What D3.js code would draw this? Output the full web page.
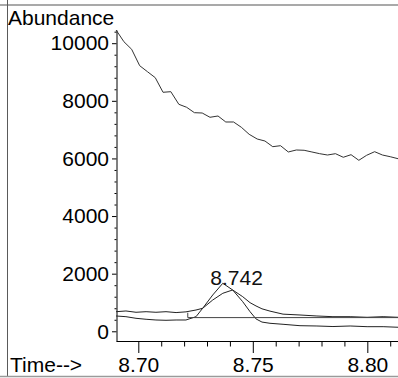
<!DOCTYPE html>
<html>
<head>
<meta charset="utf-8">
<script src="https://cdn.jsdelivr.net/npm/d3@7"></script>
<style>
html,body{margin:0;padding:0;background:#fff;}
svg{display:block;}
text{font-family:"Liberation Sans",Arial,Helvetica,sans-serif;}
</style>
</head>
<body>
<svg id="chart" width="398" height="378"></svg>
<script>
// ---- data ----
const ticTimes = [8.6903,8.6937,8.6971,8.7006,8.7040,8.7074,8.7108,8.7142,8.7177,8.7211,
  8.7245,8.7279,8.7313,8.7348,8.7382,8.7416,8.7450,8.7484,8.7519,8.7553,
  8.7587,8.7621,8.7655,8.7690,8.7724,8.7758,8.7792,8.7826,8.7861,8.7895,
  8.7929,8.7963,8.7997,8.8032,8.8066,8.8100,8.8134];
const ticValues = [10458,10052,9788,9219,9011,8803,8296,8317,7879,7775,
  7588,7577,7428,7473,7265,7265,7081,6838,6675,6605,
  6408,6442,6224,6293,6283,6224,6165,6119,6165,6040,
  6130,5935,6109,6234,6119,6060,5991];

const ionTimes = [8.6903,8.6946,8.6990,8.7034,8.7077,8.7121,8.7165,8.7208,8.7252,8.7281,
  8.7325,8.7369,8.7412,8.7456,8.7488,8.7514,8.7540,8.7575,8.7632,8.7706,
  8.7780,8.7850,8.7925,8.7999,8.8069,8.8134];
const ionAValues = [680,705,660,680,660,680,650,675,739,798,
  1086,1319,1434,1201,993,880,780,700,595,566,
  531,507,507,486,507,486];
const ionBValues = [531,507,451,417,392,382,392,392,507,798,
  1260,1666,1434,1027,680,430,320,278,243,194,
  184,165,184,160,160,140];

const baselineStart = 8.7216;
const baselineTop = 645;
const baselineLevel = 475;
const peakLabel = "8.742";
const peakLabelTime = 8.7429;
const peakLabelValue = 1620;

const yMajorTicks = [0,2000,4000,6000,8000,10000];
const yMinorTicks = [400,800,1200,1600,2400,2800,3200,3600,4400,4800,5200,5600,6400,6800,7200,7600,8400,8800,9200,9600,10400];
const xMajorTicks = [8.70,8.75,8.80];
const xMinorTicks = [8.71,8.72,8.73,8.74,8.76,8.77,8.78,8.79,8.81];
const yTitle = "Abundance";
const xTitle = "Time-->";

// ---- layout ----
const svg = d3.select("#chart");
const x = d3.scaleLinear().domain([8.69026, 8.8134]).range([116, 398]);
const y = d3.scaleLinear().domain([-337, 10458]).range([341, 30]);
const FS = "21px";

// frame lines
svg.append("line").attr("x1",0).attr("x2",398).attr("y1",5).attr("y2",5)
  .attr("stroke","#8c8c8c").attr("stroke-width",1.5);
svg.append("line").attr("x1",7.5).attr("x2",7.5).attr("y1",0).attr("y2",376)
  .attr("stroke","#5a5a5a").attr("stroke-width",1);
svg.append("line").attr("x1",0).attr("x2",398).attr("y1",376.5).attr("y2",376.5)
  .attr("stroke","#9a9a9a").attr("stroke-width",1.5);

// y axis
const gy = svg.append("g").attr("transform","translate(116.5,0)");
gy.call(d3.axisLeft(y).tickValues(yMajorTicks).tickSize(4.5).tickSizeOuter(0).tickPadding(3)
  .tickFormat(d3.format("d")));
gy.append("g").call(d3.axisLeft(y).tickValues(yMinorTicks).tickSize(2).tickSizeOuter(0).tickFormat(""))
  .select(".domain").remove();
gy.selectAll("text").attr("font-size",FS).attr("fill","#000").attr("font-family",null);
gy.selectAll("path,line").attr("stroke","#000");

// x axis
const gx = svg.append("g").attr("transform","translate(0,341)");
gx.call(d3.axisBottom(x).tickValues(xMajorTicks).tickSize(12).tickSizeOuter(0).tickPadding(4)
  .tickFormat(d3.format(".2f")));
gx.append("g").call(d3.axisBottom(x).tickValues(xMinorTicks).tickSize(5.5).tickSizeOuter(0).tickFormat(""))
  .select(".domain").remove();
gx.selectAll("text").attr("font-size",FS).attr("fill","#000").attr("font-family",null);
gx.selectAll("path,line").attr("stroke","#000");

// titles
svg.append("text").attr("x",8).attr("y",25).attr("font-size",FS).attr("fill","#000").text(yTitle);
svg.append("text").attr("x",10).attr("y",372).attr("font-size",FS).attr("fill","#000").text(xTitle);

// traces
const line = d3.line().x(d => x(d[0])).y(d => y(d[1]));
const plot = svg.append("g");
plot.append("path").datum(d3.zip(ticTimes, ticValues)).attr("d", line)
  .attr("fill","none").attr("stroke","#333").attr("stroke-width",1);
plot.append("path").datum(d3.zip(ionTimes, ionAValues)).attr("d", line)
  .attr("fill","none").attr("stroke","#222").attr("stroke-width",1);
plot.append("path").datum(d3.zip(ionTimes, ionBValues)).attr("d", line)
  .attr("fill","none").attr("stroke","#222").attr("stroke-width",1);
plot.append("path").datum([[baselineStart, baselineTop],[baselineStart, baselineLevel],[8.8134, baselineLevel]])
  .attr("d", line).attr("fill","none").attr("stroke","#444").attr("stroke-width",1);

// peak label
svg.append("text").attr("x", x(peakLabelTime)).attr("y", y(peakLabelValue))
  .attr("text-anchor","middle").attr("font-size",FS).attr("fill","#111").text(peakLabel);
</script>
</body>
</html>
